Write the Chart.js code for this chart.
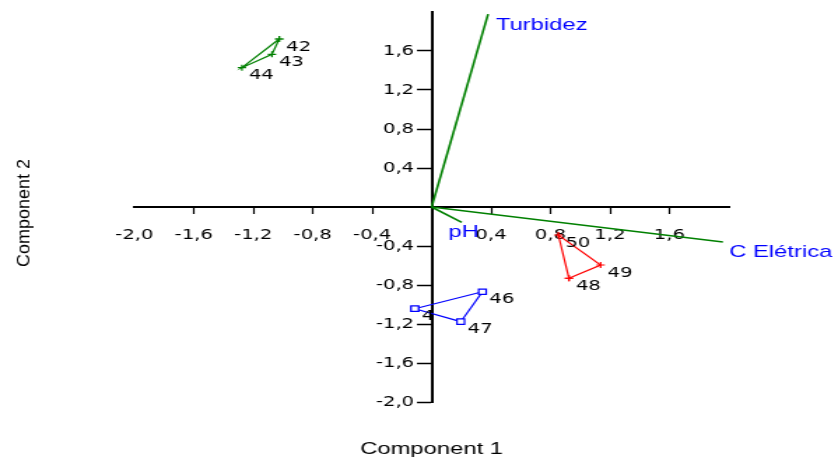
<!DOCTYPE html>
<html>
<head>
<meta charset="utf-8">
<title>PCA biplot</title>
<script src="https://cdn.jsdelivr.net/npm/chart.js@4.4.1/dist/chart.umd.min.js"></script>
<style>
  body { margin: 0; background: #fff; }
</style>
</head>
<body>
<!-- drawn narrow and widened by css, like the exported plot -->
<canvas id="biplot" width="599" height="459" style="width:838px;height:459px"></canvas>
<script>
// sample scores on component 1 / component 2
const greenIds = ['42', '43', '44'];
const greenX = [-1.025, -1.074, -1.276];
const greenY = [1.723, 1.566, 1.429];

const blueIds = ['4', '46', '47'];
const blueX = [-0.113, 0.342, 0.196];
const blueY = [-1.043, -0.869, -1.176];

const redIds = ['48', '49', '50'];
const redX = [0.924, 1.137, 0.853];
const redY = [-0.731, -0.595, -0.287];

// variable loadings
const vectorNames = ['Turbidez', 'C Elétrica', 'pH'];
const vectorX = [0.380, 1.960, 0.203];
const vectorY = [1.979, -0.359, -0.157];

// axis range
const axisMin = -2.0;
const axisMax = 2.0;
const axisStep = 0.4;

const STRETCH = 838 / 599;
const Y_LABEL_GAP = 2.5;

const groups = [
  { ids: greenIds, xs: greenX, ys: greenY, color: '#008000', style: 'cross', radius: 3, fill: '#008000' },
  { ids: blueIds, xs: blueX, ys: blueY, color: '#0000ff', style: 'rect', radius: 3.8, fill: '#ffffff' },
  { ids: redIds, xs: redX, ys: redY, color: '#ff0000', style: 'cross', radius: 3, fill: '#ff0000' }
];

// label offsets for the loading vectors (px)
const vectorLabelDx = [5.5, 4.5, -9.5];
const vectorLabelDy = [11, 10, 10];

// a y axis that sits on x = 0 still keeps its labels left of the tick marks
class CrossedLinearScale extends Chart.LinearScale {
  _computeLabelItems(chartArea) {
    const items = super._computeLabelItems(chartArea);
    if (!this.isHorizontal()) {
      const shift = this.options.grid.tickLength + Y_LABEL_GAP;
      items.forEach(item => {
        if (item.options && item.options.translation) {
          item.options.translation[0] -= shift;
        }
      });
    }
    return items;
  }
}
CrossedLinearScale.id = 'crossedLinear';
CrossedLinearScale.defaults = Chart.LinearScale.defaults;
Chart.register(CrossedLinearScale);

function toPoints(xs, ys) {
  return xs.map((x, i) => ({ x: x, y: ys[i] }));
}

const datasets = groups.map(g => {
  const pts = toPoints(g.xs, g.ys);
  return {
    data: pts.concat([pts[0]]), // close the hull
    showLine: true,
    borderColor: g.color,
    borderWidth: 1.2,
    pointStyle: g.style,
    pointRadius: g.radius,
    pointBorderColor: g.color,
    pointBackgroundColor: g.fill,
    pointBorderWidth: 1.2,
    tension: 0
  };
});

vectorNames.forEach((name, i) => {
  datasets.push({
    data: [{ x: 0, y: 0 }, { x: vectorX[i], y: vectorY[i] }],
    showLine: true,
    borderColor: '#008000',
    borderWidth: 1.6,
    pointRadius: 0,
    tension: 0
  });
});

// no label at the origin or at the top/right end
const fmt = v => (Math.abs(v) < 1e-9 || v > axisMax - 1e-9) ? '' : v.toFixed(1).replace('.', ',');

const labelPlugin = {
  id: 'biplotLabels',
  afterDatasetsDraw(chart) {
    const ctx = chart.ctx;
    ctx.save();
    ctx.textBaseline = 'middle';
    ctx.textAlign = 'left';

    // sample numbers
    ctx.font = '14px "DejaVu Sans"';
    ctx.fillStyle = '#000';
    groups.forEach((g, gi) => {
      const meta = chart.getDatasetMeta(gi);
      g.ids.forEach((id, i) => {
        const pt = meta.data[i];
        ctx.fillText(id, pt.x + 5, pt.y + 8);
      });
    });

    // variable names at the vector tips
    ctx.font = '17px "Liberation Sans", Arial';
    ctx.fillStyle = '#0000ff';
    vectorNames.forEach((name, i) => {
      const tip = chart.getDatasetMeta(groups.length + i).data[1];
      ctx.fillText(name, tip.x + vectorLabelDx[i], tip.y + vectorLabelDy[i]);
    });
    ctx.restore();
  },
  afterDraw(chart) {
    const ctx = chart.ctx;
    const area = chart.chartArea;
    ctx.save();
    ctx.fillStyle = '#000';
    ctx.textAlign = 'center';
    ctx.textBaseline = 'middle';
    ctx.font = '17px "Liberation Sans", Arial';
    ctx.fillText('Component 1', (area.left + area.right) / 2, 449);

    // vertical title, undo the horizontal widening
    ctx.translate(17.5, 213);
    ctx.scale(1 / STRETCH, 1);
    ctx.rotate(-Math.PI / 2);
    ctx.font = '18px "Liberation Sans", Arial';
    ctx.fillText('Component 2', 0, 0);
    ctx.restore();
  }
};

const hideTick = (ctx, hidden) => hidden.some(v => Math.abs(ctx.tick.value - v) < 1e-9) ? 'rgba(0,0,0,0)' : '#000';

new Chart(document.getElementById('biplot'), {
  type: 'scatter',
  data: { datasets: datasets },
  options: {
    responsive: false,
    animation: false,
    layout: { padding: { left: 96, right: 78, top: 12, bottom: 57 } },
    scales: {
      x: {
        type: 'linear',
        min: axisMin,
        max: axisMax,
        position: { y: 0 },
        border: { display: true, color: '#000', width: 2 },
        grid: {
          drawOnChartArea: false,
          drawTicks: true,
          tickLength: 6,
          tickWidth: 1.2,
          tickColor: ctx => hideTick(ctx, [axisMin, 0, axisMax])
        },
        ticks: {
          stepSize: axisStep,
          autoSkip: false,
          maxRotation: 0,
          padding: 14,
          color: '#000',
          font: { family: 'DejaVu Sans', size: 14 },
          callback: v => fmt(v)
        }
      },
      y: {
        type: 'crossedLinear',
        min: axisMin,
        max: axisMax,
        position: { x: 0 },
        border: { display: true, color: '#000', width: 2 },
        grid: {
          drawOnChartArea: false,
          drawTicks: true,
          tickLength: 10,
          tickWidth: 1.5,
          tickColor: ctx => hideTick(ctx, [0, axisMax])
        },
        ticks: {
          stepSize: axisStep,
          autoSkip: false,
          padding: 0,
          color: '#000',
          font: { family: 'DejaVu Sans', size: 14 },
          callback: v => fmt(v)
        }
      }
    },
    plugins: {
      legend: { display: false },
      tooltip: { enabled: false }
    }
  },
  plugins: [labelPlugin]
});
</script>
</body>
</html>
